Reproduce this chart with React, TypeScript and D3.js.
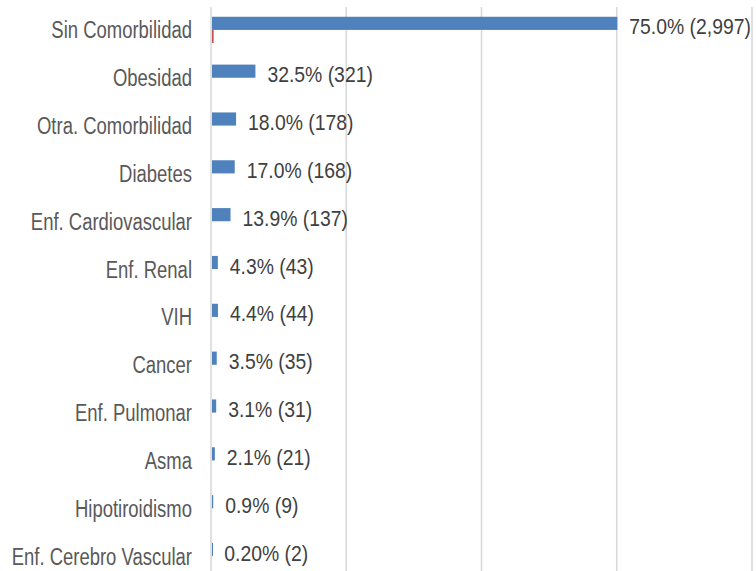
import { useEffect, useRef } from 'react'
import * as d3 from 'd3'

const categories = [
  'Sin Comorbilidad',
  'Obesidad',
  'Otra. Comorbilidad',
  'Diabetes',
  'Enf. Cardiovascular',
  'Enf. Renal',
  'VIH',
  'Cancer',
  'Enf. Pulmonar',
  'Asma',
  'Hipotiroidismo',
  'Enf. Cerebro Vascular'
]
const counts = [2997, 321, 178, 168, 137, 43, 44, 35, 31, 21, 9, 2]
const percents = ['75.0', '32.5', '18.0', '17.0', '13.9', '4.3', '4.4', '3.5', '3.1', '2.1', '0.9', '0.20']
// second series, only visible as a sliver under the first bar
const secondSeries = [12, 0, 0, 0, 0, 0, 0, 0, 0, 0, 0, 0]
const gridTicks = [0, 1000, 2000, 3000, 4000]

export default function App() {
  const svgRef = useRef<SVGSVGElement>(null)

  useEffect(() => {
    if (!svgRef.current) return
    const svg = d3.select(svgRef.current)
    svg.selectAll('*').remove()

    const x = d3.scaleLinear().domain([0, 4000]).range([211, 752])
    const y = d3
      .scaleBand()
      .domain(categories)
      .range([6, 580])
      .paddingInner(0.45)
      .paddingOuter(0.225)
    const sub = d3.scaleBand().domain(['a', 'b']).range([0, y.bandwidth()])

    svg
      .append('g')
      .selectAll('line')
      .data(gridTicks)
      .join('line')
      .attr('x1', d => x(d))
      .attr('x2', d => x(d))
      .attr('y1', 7)
      .attr('y2', 580)
      .attr('stroke', '#d9d9d9')
      .attr('stroke-width', 1.6)

    const rows = categories.map((c, i) => ({
      c,
      count: counts[i],
      pct: percents[i],
      second: secondSeries[i]
    }))

    svg
      .append('g')
      .selectAll('rect')
      .data(rows)
      .join('rect')
      .attr('x', x(0) + 1)
      .attr('y', d => (y(d.c) as number) + (sub('a') as number))
      .attr('width', d => Math.max(1, x(d.count) - x(0)))
      .attr('height', sub.bandwidth())
      .attr('fill', '#4f81bd')

    svg
      .append('g')
      .selectAll('rect')
      .data(rows.filter(d => d.second > 0))
      .join('rect')
      .attr('x', x(0) + 1)
      .attr('y', d => (y(d.c) as number) + (sub('b') as number))
      .attr('width', d => x(d.second) - x(0))
      .attr('height', sub.bandwidth())
      .attr('fill', '#c0504d')

    const center = (c: string) => (y(c) as number) + y.bandwidth() / 2

    // category labels, squeezed horizontally like the original
    svg
      .append('g')
      .selectAll('text')
      .data(rows)
      .join('text')
      .attr('transform', d => `translate(192,${center(d.c) + 8.5}) scale(0.77,1)`)
      .attr('text-anchor', 'end')
      .attr('font-family', '"Liberation Sans", Arial, sans-serif')
      .attr('font-size', 24)
      .attr('fill', '#595959')
      .text(d => d.c)

    svg
      .append('g')
      .selectAll('text')
      .data(rows)
      .join('text')
      .attr('transform', d => `translate(${x(d.count) + 13},${center(d.c) + 4.5}) scale(0.88,1)`)
      .attr('font-family', '"Liberation Sans", Arial, sans-serif')
      .attr('font-size', 22)
      .attr('fill', '#404040')
      .text(d => `${d.pct}% (${d3.format(',')(d.count)})`)
  }, [])

  return (
    <svg
      ref={svgRef}
      width={756}
      height={571}
      style={{ position: 'absolute', left: 0, top: 0, background: '#fff' }}
    />
  )
}
